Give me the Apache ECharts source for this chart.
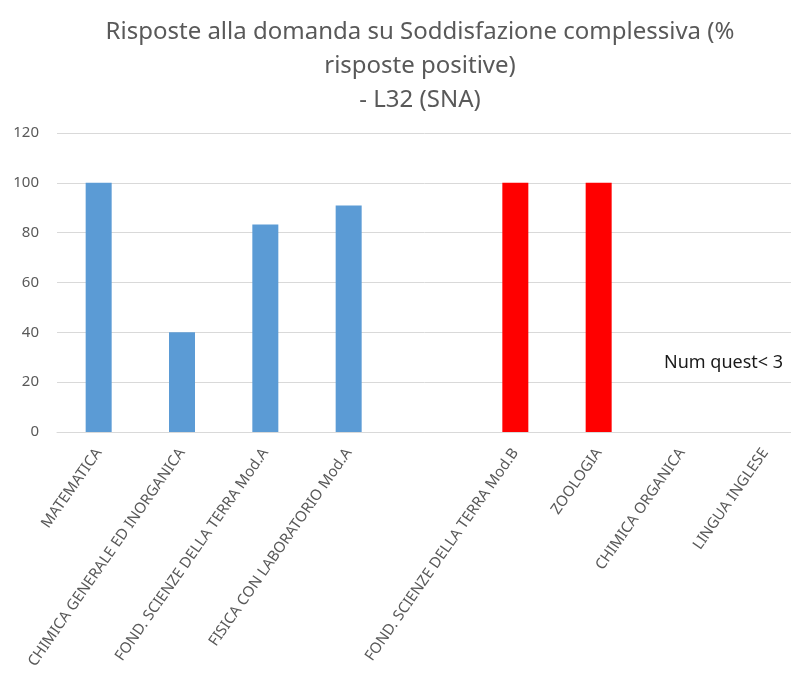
<!DOCTYPE html>
<html>
<head>
<meta charset="utf-8">
<script src="https://cdn.jsdelivr.net/npm/echarts@6/dist/echarts.min.js"></script>
<style>
  html, body { margin: 0; padding: 0; background: #fff; }
  #chart { width: 791px; height: 679px; }
</style>
</head>
<body>
<div id="chart"></div>
<script>
// categories (the 5th slot is an empty gap in the original)
const categories = [
    'MATEMATICA',
    'CHIMICA GENERALE ED INORGANICA',
    'FOND. SCIENZE DELLA TERRA Mod.A',
    'FISICA CON LABORATORIO Mod.A',
    '',
    'FOND. SCIENZE DELLA TERRA Mod.B',
    'ZOOLOGIA',
    'CHIMICA ORGANICA',
    'LINGUA INGLESE'
];

// % positive answers
const valuesOk = [100, 40, 83.3, 90.9, null, null, null, null, null];
// courses with too few questionnaires
const valuesFew = [null, null, null, null, null, 100, 100, null, null];

const yTicks = [0, 20, 40, 60, 80, 100, 120];
const noteText = 'Num quest< 3';

const textColor = '#595959';
const gridColor = '#d9d9d9';
const font = '"Noto Sans", sans-serif';

const chart = echarts.init(document.getElementById('chart'));

chart.setOption({
    backgroundColor: '#fff',
    animation: false,
    title: {
        text: 'Risposte alla domanda su Soddisfazione complessiva (%\nrisposte positive)\n- L32 (SNA)',
        left: 415,
        top: 10,
        textAlign: 'center',
        textStyle: {
            color: textColor,
            fontFamily: font,
            fontSize: 24,
            fontWeight: 'normal',
            lineHeight: 34
        }
    },
    // plot area runs past the right edge (the original is cropped)
    grid: {
        left: 57,
        top: 133,
        width: 750,
        height: 299,
        containLabel: false,
        outerBoundsMode: 'none'
    },
    xAxis: {
        type: 'category',
        data: categories,
        axisLine: { show: true, lineStyle: { color: gridColor } },
        axisTick: { show: false },
        axisLabel: {
            interval: 0,
            rotate: 55,
            margin: 18,
            color: textColor,
            fontFamily: font,
            fontSize: 15
        }
    },
    yAxis: {
        type: 'value',
        min: 0,
        max: 120,
        interval: 20,
        axisLine: { show: false },
        axisTick: { show: false },
        axisLabel: {
            color: textColor,
            fontFamily: font,
            fontSize: 15,
            margin: 18,
            formatter: (v) => yTicks.includes(v) ? String(v) : ''
        },
        splitLine: { lineStyle: { color: gridColor, width: 1 } }
    },
    series: [
        {
            name: 'ok',
            type: 'bar',
            data: valuesOk,
            barWidth: 26,
            barGap: '-100%',
            itemStyle: { color: '#5b9bd5' }
        },
        {
            name: 'few',
            type: 'bar',
            data: valuesFew,
            barWidth: 26,
            itemStyle: { color: '#ff0000' }
        }
    ],
    graphic: [
        {
            type: 'text',
            left: 664,
            top: 354,
            style: {
                text: noteText,
                fill: '#1a1a1a',
                font: '18px "Noto Sans", sans-serif'
            }
        }
    ]
});
</script>
</body>
</html>
